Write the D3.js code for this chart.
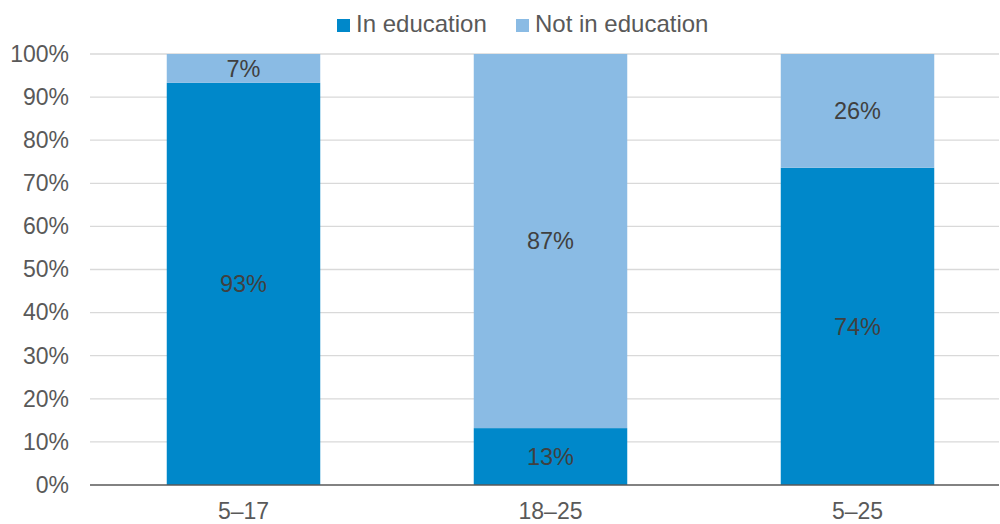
<!DOCTYPE html>
<html><head><meta charset="utf-8">
<script src="https://cdn.jsdelivr.net/npm/d3@7"></script>
<style>body{margin:0;background:#fff;}svg{display:block;font-family:"Liberation Sans",Arial,sans-serif;}</style>
</head><body>
<svg id="c" width="1000" height="524"></svg>
<script>
const categories = ["5–17", "18–25", "5–25"];
const inEducation = [93.3, 13.2, 73.6];
const notInEducation = [6.7, 86.8, 26.4];
const seriesNames = ["In education", "Not in education"];
const yTicks = [0,10,20,30,40,50,60,70,80,90,100];
const colors = ["#0088ca", "#8abbe4"];

const svg = d3.select("#c");
const x = d3.scaleBand().domain(categories).range([90, 1011]).paddingInner(0.5).paddingOuter(0.25);
const y = d3.scaleLinear().domain([0,100]).range([485, 54]);

// gridlines
svg.append("g").selectAll("line").data(yTicks.filter(d=>d>0)).join("line")
  .attr("x1",90).attr("x2",999).attr("y1",d=>y(d)).attr("y2",d=>y(d))
  .attr("stroke","#d9d9d9").attr("stroke-width",1.3);

const rows = categories.map((c,i)=>({cat:c, a:inEducation[i], b:notInEducation[i]}));
const stack = d3.stack().keys(["a","b"])(rows);

svg.append("g").selectAll("g").data(stack).join("g").attr("fill",(d,i)=>colors[i])
  .selectAll("rect").data(d=>d).join("rect")
  .attr("x",d=>x(d.data.cat)).attr("width",x.bandwidth())
  .attr("y",d=>y(d[1])).attr("height",d=>y(d[0])-y(d[1]));

// data labels
svg.append("g").selectAll("g").data(stack).join("g")
  .selectAll("text").data(d=>d).join("text")
  .attr("x",d=>x(d.data.cat)+x.bandwidth()/2)
  .attr("y",d=>(y(d[0])+y(d[1]))/2)
  .attr("dy","0.35em").attr("text-anchor","middle")
  .attr("font-size",23.5).attr("fill","#404040")
  .text(d=>Math.round(d[1]-d[0])+"%");

// axis line
svg.append("line").attr("x1",90).attr("x2",999).attr("y1",y(0)).attr("y2",y(0))
  .attr("stroke","#595959").attr("stroke-width",1.5);

// y axis
const yAxis = d3.axisLeft(y).tickValues(yTicks).tickFormat(d=>d+"%").tickSize(0).tickPadding(0);
const ga = svg.append("g").attr("transform","translate(69,0)").call(yAxis);
ga.select(".domain").remove();
ga.selectAll("text").attr("font-size",23).attr("fill","#595959").attr("font-family","Liberation Sans, Arial, sans-serif");

// x axis
const xAxis = d3.axisBottom(x).tickSize(0).tickPadding(0);
const gx = svg.append("g").attr("transform","translate(0,503)").call(xAxis);
gx.select(".domain").remove();
gx.selectAll("text").attr("font-size",23).attr("fill","#595959").attr("font-family","Liberation Sans, Arial, sans-serif");

// legend
const legX = [337, 516];
const lg = svg.append("g");
seriesNames.forEach((n,i)=>{
  lg.append("rect").attr("x",legX[i]).attr("y",19).attr("width",13).attr("height",13).attr("fill",colors[i]);
  lg.append("text").attr("x",legX[i]+19).attr("y",32)
    .attr("font-size",24).attr("fill","#595959").text(n);
});
</script>
</body></html>
